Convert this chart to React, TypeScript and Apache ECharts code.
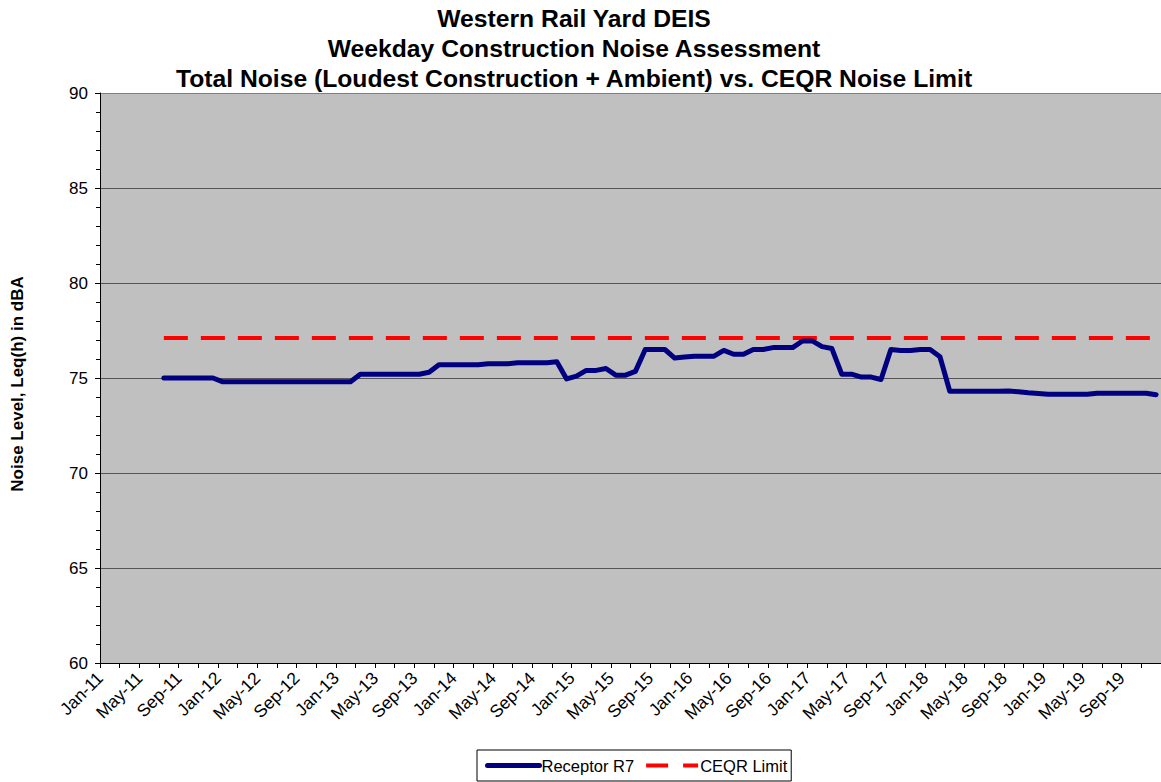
import React, { useEffect, useRef } from "react";
import * as echarts from "echarts";

const monthNames = ["Jan", "Feb", "Mar", "Apr", "May", "Jun", "Jul", "Aug", "Sep", "Oct", "Nov", "Dec"];
const years = ["11", "12", "13", "14", "15", "16", "17", "18", "19"];
const months: string[] = [];
years.forEach((y) => monthNames.forEach((m) => months.push(`${m}-${y}`)));

// Receptor R7 total noise, Jan-11 .. Dec-19 (null where no construction)
const receptorR7: (number | null)[] = [
  // 2011
  null, null, null, null, null, null, 75.0, 75.0, 75.0, 75.0, 75.0, 75.0,
  // 2012
  74.8, 74.8, 74.8, 74.8, 74.8, 74.8, 74.8, 74.8, 74.8, 74.8, 74.8, 74.8,
  // 2013
  74.8, 74.8, 75.2, 75.2, 75.2, 75.2, 75.2, 75.2, 75.2, 75.3, 75.7, 75.7,
  // 2014
  75.7, 75.7, 75.7, 75.75, 75.75, 75.75, 75.8, 75.8, 75.8, 75.8, 75.85, 74.95,
  // 2015
  75.1, 75.4, 75.4, 75.5, 75.15, 75.15, 75.35, 76.5, 76.5, 76.5, 76.05, 76.1,
  // 2016
  76.15, 76.15, 76.15, 76.45, 76.25, 76.25, 76.5, 76.5, 76.6, 76.6, 76.6, 76.95,
  // 2017
  76.95, 76.65, 76.55, 75.2, 75.2, 75.05, 75.05, 74.92, 76.5, 76.45, 76.45, 76.5,
  // 2018
  76.5, 76.12, 74.3, 74.3, 74.3, 74.3, 74.3, 74.3, 74.32, 74.28, 74.22, 74.18,
  // 2019
  74.15, 74.15, 74.15, 74.15, 74.15, 74.2, 74.2, 74.2, 74.2, 74.2, 74.2, 74.12,
];

const ceqrLimit = 77.1;

const titleLines = [
  "Western Rail Yard DEIS",
  "Weekday Construction Noise Assessment",
  "Total Noise (Loudest Construction + Ambient) vs. CEQR Noise Limit",
];
const yAxisTitle = "Noise Level, Leq(h) in dBA";
const seriesNames = ["Receptor R7", "CEQR Limit"];

const FONT = '"Liberation Sans", Arial, sans-serif';
const TRANSPARENT = "rgba(0,0,0,0)";

export default function App() {
  const ref = useRef<HTMLDivElement>(null);

  useEffect(() => {
    if (!ref.current) return;
    const chart = echarts.init(ref.current, undefined, { renderer: "svg" });

    const r7Data = receptorR7.map((v, i) => [i + 0.5, v]);
    const limitData = receptorR7.map((v, i) => [i + 0.5, v === null ? null : ceqrLimit]);

    chart.setOption({
      animation: false,
      backgroundColor: "#ffffff",
      textStyle: { fontFamily: FONT },
      title: {
        text: titleLines.join("\n"),
        left: 574,
        textAlign: "center",
        top: 3,
        padding: 0,
        textStyle: {
          fontFamily: FONT,
          fontSize: 24.7,
          fontWeight: "bold",
          color: "#000",
          lineHeight: 30,
        },
      },
      grid: {
        left: 100,
        top: 93,
        bottom: 119,
        right: -6,
        show: true,
        backgroundColor: "#C0C0C0",
        borderWidth: 0,
      },
      xAxis: {
        type: "value",
        min: 0,
        max: months.length,
        interval: 2,
        axisLine: { show: true, lineStyle: { color: "#000", width: 1 } },
        axisTick: { show: true, length: 5, lineStyle: { color: "#000" } },
        splitLine: { show: false },
        axisLabel: {
          rotate: 45,
          margin: 12,
          fontSize: 17.5,
          fontFamily: FONT,
          color: "#000",
          showMaxLabel: false,
          formatter: (v: number) => (v % 4 === 0 && v < months.length ? months[v] : ""),
        },
      },
      yAxis: {
        type: "value",
        min: 60,
        max: 90,
        interval: 5,
        name: yAxisTitle,
        nameLocation: "middle",
        nameGap: 74,
        nameTextStyle: {
          fontFamily: FONT,
          fontSize: 17,
          fontWeight: "bold",
          color: "#000",
          padding: [0, 12, 0, 0],
        },
        axisLine: { show: true, lineStyle: { color: "#000", width: 1 } },
        axisTick: { show: true, length: 5, lineStyle: { color: "#000" } },
        minorTick: { show: true, splitNumber: 5, length: 4, lineStyle: { color: "#000" } },
        splitLine: {
          show: true,
          lineStyle: {
            color: ["#555", "#555", "#555", "#555", "#555", "#555", "#808080"],
            width: 1,
          },
        },
        axisLabel: { margin: 12, fontSize: 17, fontFamily: FONT, color: "#000" },
      },
      legend: {
        bottom: 1,
        left: 477,
        orient: "horizontal",
        backgroundColor: "#fff",
        borderColor: "#000",
        borderWidth: 1,
        borderRadius: 0,
        padding: [7, 4, 7, 8],
        itemWidth: 52,
        itemHeight: 14,
        itemGap: 10,
        itemStyle: { color: TRANSPARENT, borderColor: TRANSPARENT, borderWidth: 0, opacity: 0 },
        textStyle: { fontFamily: FONT, fontSize: 16.5, color: "#000", padding: [0, 0, 0, -3] },
        data: [
          { name: seriesNames[0], lineStyle: { color: "#000080", width: 5, cap: "round" } },
          { name: seriesNames[1], lineStyle: { color: "#FF0000", width: 4, type: [22, 15] } },
        ],
      },
      series: [
        {
          name: seriesNames[0],
          type: "line",
          data: r7Data,
          showSymbol: false,
          symbol: "none",
          connectNulls: false,
          lineStyle: { color: "#000080", width: 5, cap: "round", join: "round" },
          itemStyle: { color: "#000080" },
          z: 3,
        },
        {
          name: seriesNames[1],
          type: "line",
          data: limitData,
          showSymbol: false,
          symbol: "none",
          lineStyle: { color: "#FF0000", width: 4, type: [24, 13] },
          itemStyle: { color: "#FF0000" },
          z: 2,
        },
      ],
    });

    return () => chart.dispose();
  }, []);

  return (
    <div
      ref={ref}
      style={{ position: "fixed", left: 0, top: 0, width: 1161, height: 782, overflow: "hidden" }}
    />
  );
}
